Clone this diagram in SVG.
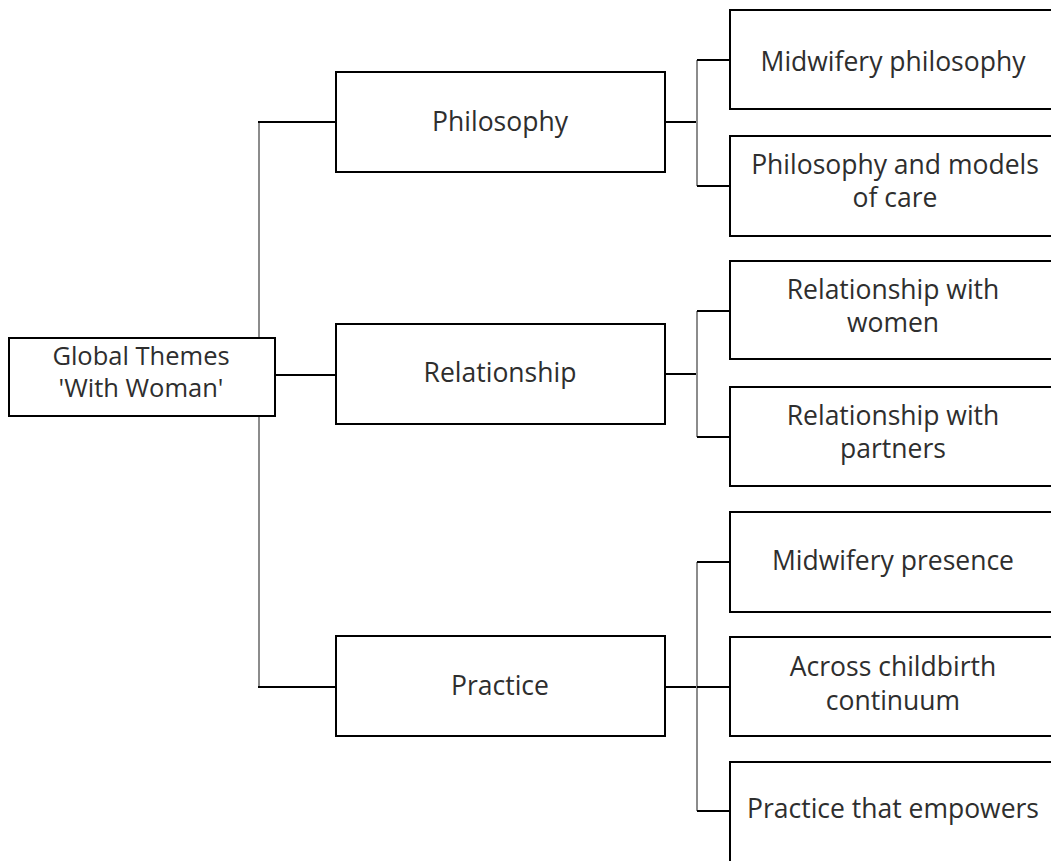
<svg xmlns="http://www.w3.org/2000/svg" width="1051" height="861" viewBox="0 0 1051 861">
<style>
.box{fill:#fff;stroke:#000;stroke-width:2}
.t{font-family:"Open Sans","Noto Sans",sans-serif;font-size:26.5px;fill:#2e2e2e;text-anchor:middle}
.r{font-size:25.5px}
.c{fill:none;stroke:#000;stroke-width:2}
.g{fill:none;stroke:#8c8c8c;stroke-width:2}
</style>
<rect width="1051" height="861" fill="#fff"/>
<g id="connectors">
<path class="g" d="M259 122V688"/>
<path class="c" d="M258 122H336M275 375H336M258 687H336"/>
<path class="c" d="M665 122H697M665 374H697M665 687H697"/>
<path class="g" d="M697 60V186M697 311V437M697 562V811"/>
<path class="c" d="M697 60H730M697 186H730M697 311H730M697 437H730M697 562H730M697 687H730M697 811H730"/>
</g>
<g id="root"><rect class="box" x="9" y="338" width="266" height="78"/><text class="t r" x="141" y="365">Global Themes</text><text class="t r" x="141" y="397">'With Woman'</text></g>
<g id="philosophy"><rect class="box" x="336" y="72" width="329" height="100"/><text class="t" x="500" y="131">Philosophy</text></g>
<g id="relationship"><rect class="box" x="336" y="324" width="329" height="100"/><text class="t" x="500" y="382">Relationship</text></g>
<g id="practice"><rect class="box" x="336" y="636" width="329" height="100"/><text class="t" x="500" y="695">Practice</text></g>
<g id="leaf1"><rect class="box" x="730" y="10" width="330" height="99"/><text class="t" x="893" y="71">Midwifery philosophy</text></g>
<g id="leaf2"><rect class="box" x="730" y="136" width="330" height="100"/><text class="t" x="895" y="174">Philosophy and models</text><text class="t" x="895" y="207">of care</text></g>
<g id="leaf3"><rect class="box" x="730" y="261" width="330" height="98"/><text class="t" x="893" y="299">Relationship with</text><text class="t" x="893" y="332">women</text></g>
<g id="leaf4"><rect class="box" x="730" y="387" width="330" height="99"/><text class="t" x="893" y="425">Relationship with</text><text class="t" x="893" y="458">partners</text></g>
<g id="leaf5"><rect class="box" x="730" y="512" width="330" height="100"/><text class="t" x="893" y="570">Midwifery presence</text></g>
<g id="leaf6"><rect class="box" x="730" y="637" width="330" height="99"/><text class="t" x="893" y="676">Across childbirth</text><text class="t" x="893" y="710">continuum</text></g>
<g id="leaf7"><rect class="box" x="730" y="762" width="330" height="110"/><text class="t" x="893" y="818">Practice that empowers</text></g>
</svg>
